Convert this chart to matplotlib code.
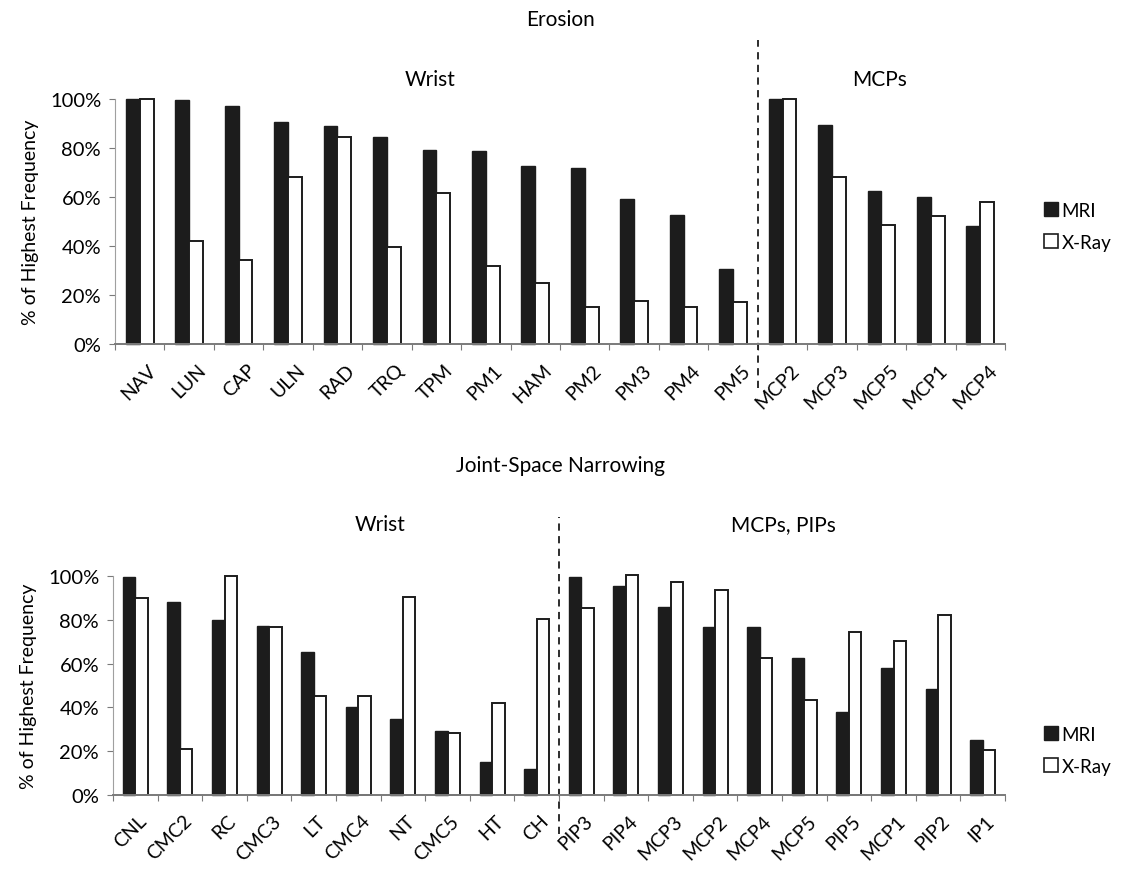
import numpy as np
import matplotlib.pyplot as plt
from matplotlib.patches import Patch
from matplotlib.ticker import FixedLocator, PercentFormatter

plt.rcParams['font.family'] = ['Lato', 'DejaVu Sans']

# Erosion data
ero_labels = ['NAV', 'LUN', 'CAP', 'ULN', 'RAD', 'TRQ', 'TPM', 'PM1', 'HAM',
              'PM2', 'PM3', 'PM4', 'PM5', 'MCP2', 'MCP3', 'MCP5', 'MCP1', 'MCP4']
ero_mri = [100, 99.7, 97, 90.5, 89, 84.5, 79.3, 78.6, 72.8,
           71.8, 59.3, 52.5, 30.8, 100, 89.2, 62.3, 60.2, 48.3]
ero_xray = [100, 42.2, 34.4, 68.2, 84.5, 39.5, 61.5, 31.7, 24.8,
            15.2, 17.5, 15.2, 17.3, 100, 68.2, 48.7, 52.1, 57.8]

# Joint-space narrowing data
jsn_labels = ['CNL', 'CMC2', 'RC', 'CMC3', 'LT', 'CMC4', 'NT', 'CMC5', 'HT', 'CH',
              'PIP3', 'PIP4', 'MCP3', 'MCP2', 'MCP4', 'MCP5', 'PIP5', 'MCP1', 'PIP2', 'IP1']
jsn_mri = [99.5, 88.2, 80, 77, 65.5, 40.1, 34.6, 29, 14.9, 12.1,
           99.7, 95.5, 86, 76.7, 76.7, 62.5, 38, 57.9, 48.4, 25]
jsn_xray = [90, 20.8, 100, 76.5, 45.3, 45.3, 90.2, 28.2, 42, 80.2,
            85.6, 100.5, 97.4, 93.5, 62.7, 43.3, 74.3, 70.2, 82, 20.5]

W, H = 1123, 870
fig = plt.figure(figsize=(W / 100, H / 100), dpi=100)

def px(x0, y0, x1, y1):
    # pixel box -> figure fraction [left, bottom, width, height]
    return [x0 / W, 1 - y1 / H, (x1 - x0) / W, (y1 - y0) / H]

w = 0.28
axis_col = '#7a7a7a'

def draw(ax, labels, mri, xray, split, legend_y, dash, width_px, shift_px):
    n = len(labels)
    x = np.arange(n)
    ax.bar(x - w / 2, mri, w, color='#1c1c1c', edgecolor='#1c1c1c', linewidth=1,
           clip_on=False)
    ax.bar(x + w / 2, xray, w, color='white', edgecolor='#1c1c1c', linewidth=1.4,
           clip_on=False)
    ax.set_xlim(-0.5, n - 0.5)
    ax.set_ylim(0, 100)
    ax.set_yticks(np.arange(0, 101, 20))
    ax.yaxis.set_major_formatter(PercentFormatter(decimals=0))
    # labels sit a bit right of the bar-pair centre, like the Excel original
    off = shift_px / (width_px / n)
    ax.set_xticks(x + off)
    ax.set_xticklabels(labels, rotation=45, ha='right', rotation_mode='anchor')
    ax.xaxis.set_minor_locator(FixedLocator(np.arange(n + 1) - 0.5))
    ax.tick_params(axis='x', which='major', length=0, pad=12, labelsize=14)
    ax.tick_params(axis='x', which='minor', length=4, color=axis_col, width=0.8)
    ax.tick_params(axis='y', length=4, color=axis_col, width=0.8, labelsize=14.5, pad=6)
    for s in ['top', 'right']:
        ax.spines[s].set_visible(False)
    ax.spines['left'].set_color('#a0a0a0')
    ax.spines['bottom'].set_color(axis_col)
    ax.spines['bottom'].set_linewidth(1.4)
    ax.set_ylabel('% of Highest Frequency', fontsize=14, labelpad=8)
    # dashed divider between wrist and finger joints
    ax.axvline(split - 0.5, ymin=dash[0], ymax=dash[1], color='#1c1c1c', ls=(0, (4, 3)),
               lw=1.3, clip_on=False)
    handles = [Patch(facecolor='#1c1c1c', edgecolor='#1c1c1c'),
               Patch(facecolor='white', edgecolor='#1c1c1c', linewidth=1.2)]
    ax.legend(handles, ['MRI', 'X-Ray'], loc='center left', bbox_to_anchor=(1.035, legend_y),
              frameon=False, fontsize=13.5, handlelength=0.75, handleheight=0.75,
              handletextpad=0.2, labelspacing=0.8, borderaxespad=0)

ax1 = fig.add_axes(px(115, 100, 1005, 345))
draw(ax1, ero_labels, ero_mri, ero_xray, 13, 0.48, (-0.18, 1.24), 890, 8)
ax2 = fig.add_axes(px(113, 577, 1005, 796))
draw(ax2, jsn_labels, jsn_mri, jsn_xray, 10, 0.205, (-0.18, 1.27), 892, 3)

fig.text(560 / W, 1 - 20 / H, 'Erosion', ha='center', va='center', fontsize=15)
fig.text(430 / W, 1 - 80 / H, 'Wrist', ha='center', va='center', fontsize=15)
fig.text(880 / W, 1 - 80 / H, 'MCPs', ha='center', va='center', fontsize=15)
fig.text(560 / W, 1 - 466 / H, 'Joint-Space Narrowing', ha='center', va='center', fontsize=15)
fig.text(380 / W, 1 - 525 / H, 'Wrist', ha='center', va='center', fontsize=15)
fig.text(783 / W, 1 - 525 / H, 'MCPs, PIPs', ha='center', va='center', fontsize=15)

fig.savefig('out.png', dpi=100)
